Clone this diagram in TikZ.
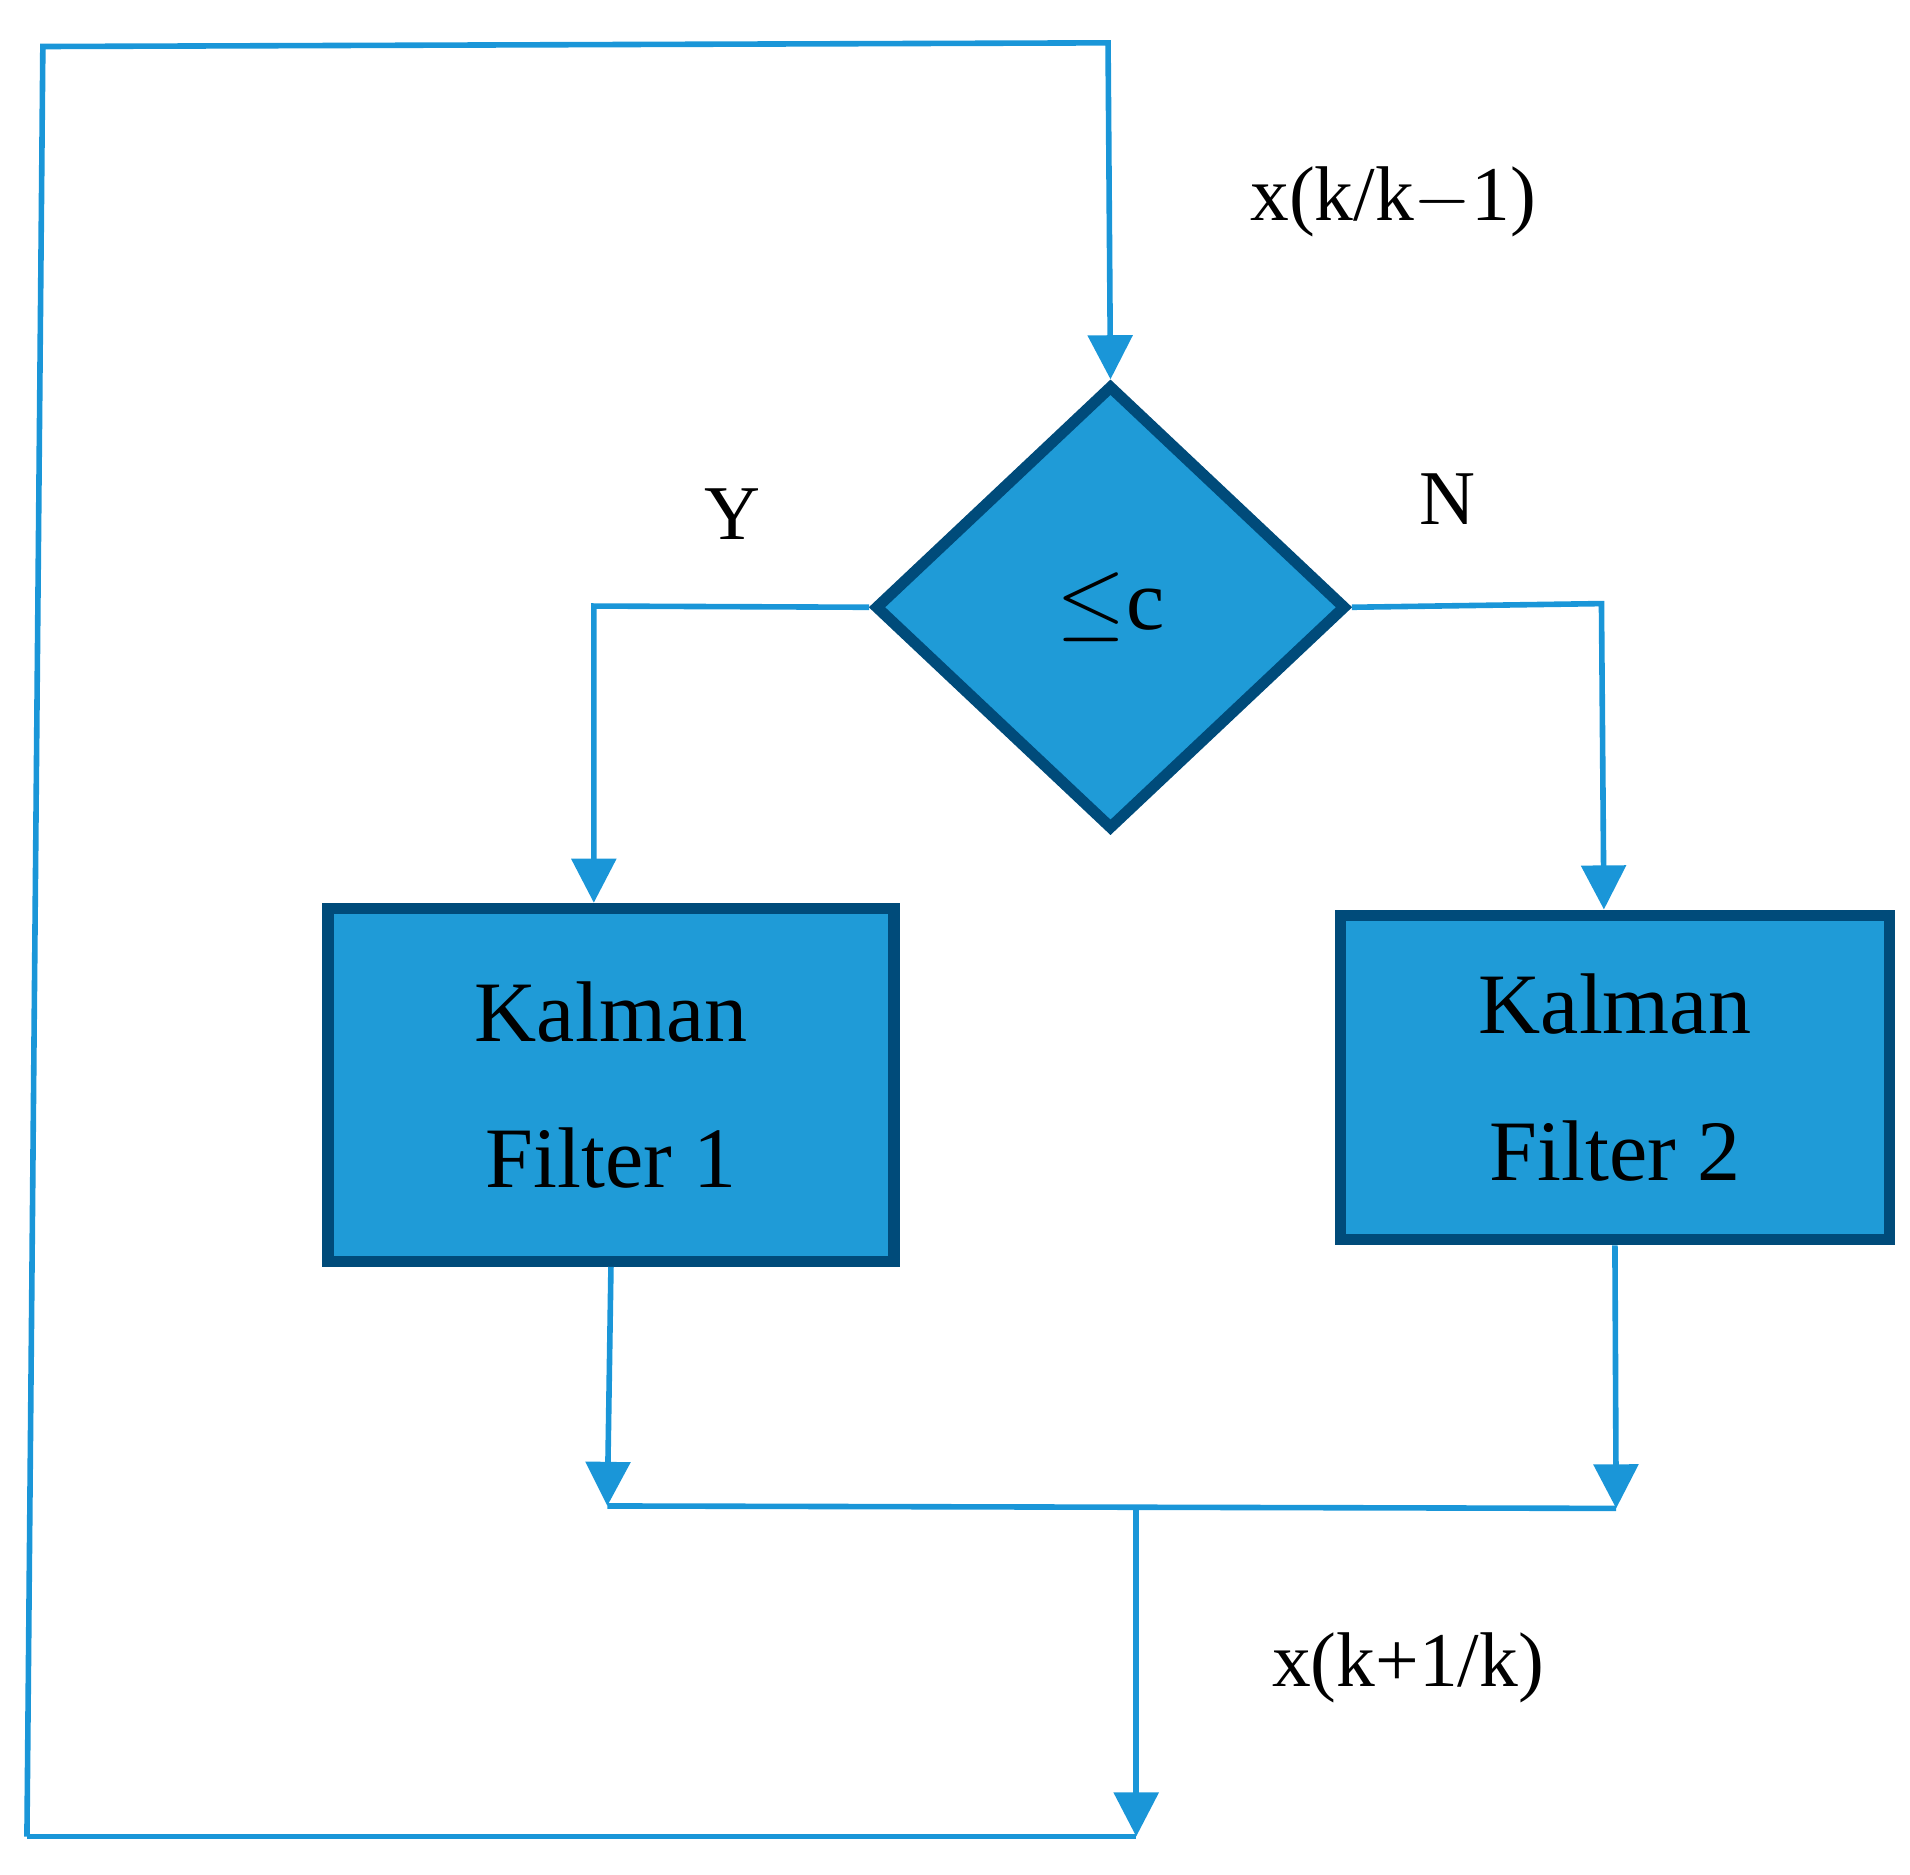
\documentclass[tikz,border=0pt]{standalone}
\usepackage{fontspec}
\setmainfont{Liberation Serif}
\usetikzlibrary{shapes.geometric,arrows.meta}
\definecolor{ln}{HTML}{1A96D8}
\definecolor{fl}{HTML}{1F9BD7}
\definecolor{bd}{HTML}{004B7A}
\begin{document}
\begin{tikzpicture}[x=0.01cm,y=-0.01cm,
 conn/.style={draw=ln,line width=1.3pt},
 arr/.style={conn,-{Triangle[width=0.36cm,length=0.36cm]}},
 blk/.style={draw=bd,fill=fl,line width=2.6pt,inner sep=0pt,font=\fontsize{20}{34}\selectfont,align=center},
 lbl/.style={font=\fontsize{18}{22}\selectfont}]
\useasboundingbox (0,0) rectangle (1560,1531);
\node[blk,diamond,minimum width=3.85cm,minimum height=3.63cm] (d) at (907,496) {$\leq$c};
\node[blk,minimum width=4.62cm,minimum height=2.88cm] (k1) at (499,886) {Kalman\\Filter 1};
\node[blk,minimum width=4.48cm,minimum height=2.65cm] (k2) at (1319,880) {Kalman\\Filter 2};
\coordinate (tl) at (35,38);
\coordinate (tr) at (905,35);
\coordinate (bl) at (22,1500);
\coordinate (br) at (928,1500);
\coordinate (jl) at (496,1230);
\coordinate (jr) at (1320,1232);
\coordinate (jm) at (928,1231);
\draw[arr] (bl) -- (tl) -- (tr) -- (d.north);
\draw[conn] (bl) -- (br);
\draw[arr] (jm) -- (br);
\draw[arr] (d.west) -- (485,495) -- (k1.north -| 485,0);
\draw[arr] (d.east) -- (1308,493) -- (k2.north -| 1310,0);
\draw[arr] (k1.south) -- (jl);
\draw[arr] (k2.south) -- (jr);
\draw[conn] (jl) -- (jr);
\node[lbl] (t1) at (1138,165) {x(k/k$-$1)};
\node[lbl] (t2) at (1150,1362) {x(k+1/k)};
\node[lbl] (ty) at (598,420) {Y};
\node[lbl] (tn) at (1182,408) {N};
\end{tikzpicture}
\end{document}
